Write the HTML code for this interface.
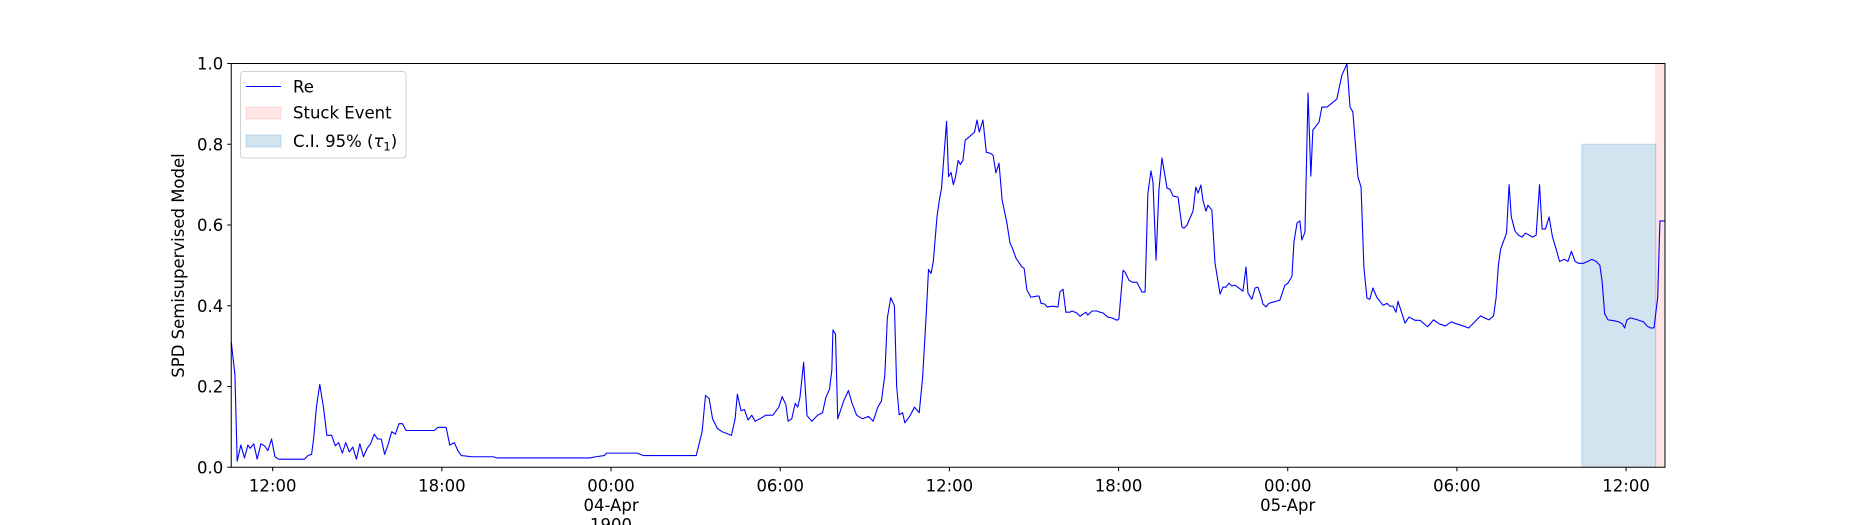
<!DOCTYPE html>
<html><head><meta charset="utf-8"><style>
html,body{margin:0;padding:0;background:#fff;}
svg{display:block;font-family:"DejaVu Sans","Liberation Sans",sans-serif;}
</style></head><body>
<svg id="chart" width="1850" height="525" viewBox="0 0 1850 525" xmlns="http://www.w3.org/2000/svg">
<rect x="0" y="0" width="1850" height="525" fill="#fff"/>
<g id="regions"></g>
<g id="series"></g>
<g id="axes"></g>
<text x="0" y="0" transform="translate(184,265.5) rotate(-90)" text-anchor="middle" font-size="16.5">SPD Semisupervised Model</text>
<g>
<rect x="240.5" y="71.5" width="165.5" height="86.5" rx="3" fill="#fff" fill-opacity="0.8" stroke="#d0d0d0" stroke-width="1"/>
<line x1="246" y1="86.5" x2="281" y2="86.5" stroke="#0000ff" stroke-width="1"/>
<text x="293" y="92.5" font-size="16.5">Re</text>
<rect x="246" y="107" width="35" height="12" fill="#ff0000" fill-opacity="0.1" stroke="#ff0000" stroke-opacity="0.1"/>
<text x="293" y="118.5" font-size="16.5">Stuck Event</text>
<rect x="246" y="135" width="35" height="12" fill="#1f77b4" fill-opacity="0.2" stroke="#1f77b4" stroke-opacity="0.2"/>
<text x="293" y="147" font-size="16.5">C.I. 95% (<tspan font-style="italic">τ</tspan><tspan font-size="11.5" dy="3.5">1</tspan><tspan dy="-3.5">)</tspan></text>
</g>
</svg>
<script>
// hours relative to 04-Apr 00:00
const times = [-13.47,-13.34,-13.26,-13.13,-13.0,-12.88,-12.8,-12.67,-12.55,-12.42,-12.29,-12.17,-12.04,-11.92,-11.79,-10.87,-10.75,-10.62,-10.54,-10.45,-10.33,-10.2,-10.08,-9.91,-9.78,-9.66,-9.53,-9.41,-9.28,-9.16,-9.03,-8.91,-8.78,-8.65,-8.53,-8.4,-8.28,-8.15,-8.03,-7.9,-7.78,-7.65,-7.52,-7.4,-7.27,-6.81,-6.27,-6.14,-5.85,-5.72,-5.56,-5.43,-5.31,-4.93,-4.18,-4.05,-0.75,-0.54,-0.24,-0.16,0.93,1.14,1.76,3.02,3.23,3.35,3.48,3.6,3.77,3.94,4.27,4.4,4.48,4.61,4.73,4.86,4.99,5.11,5.28,5.49,5.74,5.95,6.07,6.2,6.28,6.41,6.53,6.62,6.7,6.83,6.95,7.12,7.33,7.5,7.62,7.75,7.83,7.87,7.96,8.04,8.25,8.42,8.54,8.71,8.92,9.13,9.3,9.46,9.59,9.71,9.8,9.92,10.05,10.13,10.22,10.34,10.42,10.59,10.76,10.93,11.05,11.18,11.26,11.35,11.43,11.56,11.64,11.72,11.9,11.97,12.06,12.14,12.22,12.31,12.39,12.48,12.56,12.73,12.89,12.98,13.06,13.19,13.31,13.44,13.55,13.65,13.76,13.87,14.04,14.15,14.22,14.36,14.57,14.65,14.75,14.89,15.11,15.18,15.25,15.39,15.46,15.67,15.82,15.85,15.92,16.03,16.13,16.28,16.35,16.52,16.63,16.84,16.91,17.06,17.23,17.34,17.45,17.62,17.8,17.94,18.01,18.16,18.23,18.37,18.51,18.65,18.83,18.94,19.04,19.15,19.22,19.33,19.43,19.54,19.72,19.82,19.93,20.11,20.25,20.32,20.43,20.53,20.64,20.74,20.82,20.92,20.99,21.1,21.17,21.31,21.42,21.6,21.7,21.81,21.91,22.02,22.13,22.23,22.41,22.52,22.59,22.73,22.84,22.94,23.05,23.12,23.23,23.33,23.72,23.9,24.01,24.15,24.22,24.33,24.43,24.5,24.61,24.72,24.82,24.89,25.11,25.21,25.39,25.57,25.74,25.92,26.1,26.21,26.31,26.49,26.6,26.7,26.81,26.91,27.02,27.16,27.38,27.52,27.62,27.73,27.84,27.91,28.16,28.3,28.51,28.69,28.96,29.17,29.38,29.59,29.8,30.0,30.22,30.42,30.63,30.84,30.97,31.14,31.3,31.39,31.47,31.55,31.68,31.76,31.85,31.93,32.06,32.18,32.31,32.43,32.56,32.68,32.81,32.93,33.02,33.14,33.27,33.39,33.52,33.64,33.81,33.94,34.06,34.19,34.32,34.48,34.65,34.78,34.94,35.07,35.15,35.24,35.36,35.57,35.74,35.87,35.95,36.03,36.16,36.41,36.62,36.74,36.87,36.99,37.12,37.2,37.37];
const values = [0.31,0.23,0.015,0.055,0.023,0.055,0.047,0.058,0.02,0.058,0.053,0.041,0.07,0.026,0.02,0.02,0.029,0.032,0.076,0.149,0.205,0.149,0.079,0.079,0.053,0.061,0.035,0.061,0.038,0.05,0.02,0.058,0.026,0.047,0.058,0.082,0.07,0.07,0.032,0.058,0.088,0.082,0.108,0.108,0.091,0.091,0.091,0.099,0.099,0.055,0.061,0.041,0.029,0.026,0.026,0.023,0.023,0.026,0.029,0.035,0.035,0.029,0.029,0.029,0.088,0.178,0.17,0.12,0.096,0.088,0.079,0.12,0.181,0.14,0.143,0.117,0.129,0.114,0.12,0.129,0.129,0.149,0.175,0.155,0.114,0.12,0.158,0.149,0.173,0.26,0.128,0.114,0.129,0.135,0.173,0.194,0.24,0.34,0.33,0.12,0.164,0.19,0.16,0.129,0.12,0.126,0.114,0.149,0.164,0.228,0.37,0.42,0.40,0.2,0.13,0.135,0.11,0.126,0.149,0.135,0.222,0.38,0.49,0.48,0.51,0.62,0.66,0.69,0.857,0.72,0.73,0.70,0.72,0.76,0.75,0.76,0.81,0.82,0.83,0.86,0.83,0.86,0.78,0.778,0.773,0.729,0.753,0.662,0.605,0.555,0.545,0.518,0.496,0.493,0.439,0.421,0.424,0.424,0.406,0.404,0.397,0.399,0.397,0.397,0.434,0.441,0.384,0.384,0.387,0.382,0.374,0.384,0.377,0.387,0.387,0.384,0.382,0.372,0.369,0.364,0.367,0.488,0.483,0.463,0.458,0.458,0.434,0.434,0.679,0.734,0.706,0.513,0.686,0.766,0.691,0.689,0.672,0.669,0.595,0.592,0.6,0.617,0.634,0.694,0.679,0.699,0.662,0.634,0.649,0.637,0.506,0.429,0.446,0.446,0.456,0.449,0.451,0.446,0.436,0.496,0.431,0.416,0.444,0.446,0.424,0.404,0.397,0.406,0.414,0.451,0.456,0.473,0.558,0.605,0.61,0.563,0.582,0.927,0.721,0.835,0.855,0.892,0.892,0.902,0.912,0.971,0.999,0.892,0.88,0.719,0.694,0.496,0.419,0.416,0.444,0.421,0.401,0.406,0.399,0.399,0.384,0.411,0.357,0.372,0.364,0.364,0.348,0.365,0.355,0.35,0.36,0.355,0.35,0.345,0.36,0.375,0.37,0.365,0.375,0.42,0.5,0.54,0.565,0.58,0.70,0.62,0.585,0.575,0.57,0.58,0.575,0.57,0.575,0.70,0.59,0.59,0.62,0.57,0.54,0.51,0.515,0.51,0.535,0.51,0.505,0.505,0.51,0.515,0.51,0.5,0.46,0.38,0.365,0.363,0.36,0.355,0.345,0.365,0.37,0.365,0.36,0.35,0.345,0.345,0.42,0.61,0.61];
const ciRange = [34.43, 37.05];
const ciLevel = [0, 0.8];
const stuckRange = [37.05, 37.38];
const xDomain = [-13.47, 37.38];
const yTicks = [0, 0.2, 0.4, 0.6, 0.8, 1.0];
const yTickLabels = ["0.0","0.2","0.4","0.6","0.8","1.0"];
const xTicks = [-12, -6, 0, 6, 12, 18, 24, 30, 36];
const xTickLabels = [["12:00"],["18:00"],["00:00","04-Apr","1900"],["06:00"],["12:00"],["18:00"],["00:00","05-Apr"],["06:00"],["12:00"]];

const L=231.25,R=1665,T=63.5,B=467.25;
const NS="http://www.w3.org/2000/svg";
function xs(h){return L+(h-xDomain[0])/(xDomain[1]-xDomain[0])*(R-L);}
function ys(v){return B-v*(B-T);}
function mk(tag,attrs,parent){const e=document.createElementNS(NS,tag);for(const k in attrs)e.setAttribute(k,attrs[k]);parent.appendChild(e);return e;}

const reg=document.getElementById('regions');
const ci=mk('rect',{x:xs(ciRange[0]),y:ys(ciLevel[1]),width:xs(ciRange[1])-xs(ciRange[0]),height:ys(ciLevel[0])-ys(ciLevel[1]),fill:'#1f77b4','fill-opacity':0.2,stroke:'#1f77b4','stroke-opacity':0.2},reg);


const st=mk('rect',{x:xs(stuckRange[0]),y:T,width:xs(stuckRange[1])-xs(stuckRange[0]),height:B-T,fill:'#ff0000','fill-opacity':0.1,stroke:'#ff0000','stroke-opacity':0.1},reg);



const ser=document.getElementById('series');
let d='';
for(let i=0;i<times.length;i++){d+=(i?'L':'M')+xs(times[i]).toFixed(2)+','+ys(values[i]).toFixed(2);}
const ln=mk('path',{d:d,fill:'none',stroke:'#0000ff','stroke-width':1.1,'stroke-linejoin':'round'},ser);



const ax=document.getElementById('axes');
const fr=mk('rect',{x:L,y:T,width:R-L,height:B-T,fill:'none',stroke:'#000','stroke-width':1},ax);


for(let i=0;i<yTicks.length;i++){
  const y=ys(yTicks[i]);
  const t=mk('line',{x1:L-4,x2:L,y1:y,y2:y,stroke:'#000','stroke-width':1},ax);
  
  
  const lb=mk('text',{x:L-8,y:y+6,'text-anchor':'end','font-size':16.5},ax);
  lb.textContent=yTickLabels[i];
  
  
}
for(let i=0;i<xTicks.length;i++){
  const x=xs(xTicks[i]);
  const t=mk('line',{x1:x,x2:x,y1:B,y2:B+4,stroke:'#000','stroke-width':1},ax);
  
  
  const lines=xTickLabels[i];
  for(let j=0;j<lines.length;j++){
    const lb=mk('text',{x:x,y:B+24+j*19.5,'text-anchor':'middle','font-size':16.5},ax);
    lb.textContent=lines[j];
    
    
  }
}
</script>
</body></html>
